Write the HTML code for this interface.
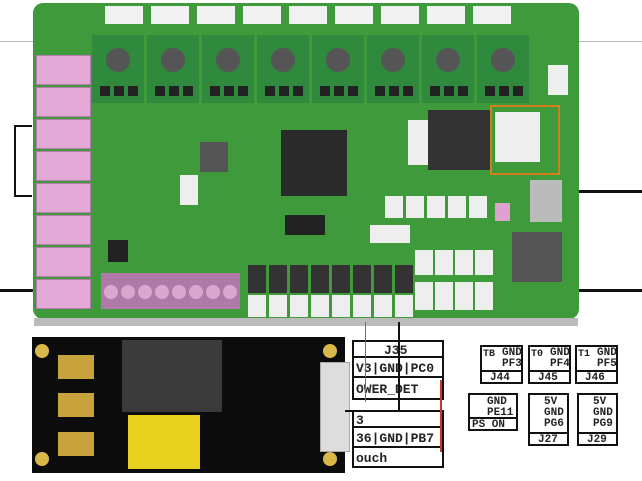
<!DOCTYPE html><html><head><style>
body{margin:0;width:642px;height:481px;background:#fff;position:relative;overflow:hidden;font-family:"Liberation Mono",monospace}
div{position:absolute;box-sizing:border-box}
.b{border:2px solid #111;background:#fff}
.t{font-size:13px;font-weight:bold;color:#222;line-height:1}
</style></head><body>
<div style="left:0;top:41px;width:642px;height:1px;background:#bbb"></div>
<div style="left:0;top:289px;width:642px;height:3px;background:#111"></div>
<div style="left:560px;top:190px;width:82px;height:3px;background:#111"></div>
<div style="left:14px;top:125px;width:18px;height:72px;border:2px solid #111;border-right:none"></div>
<div id="pcb" style="left:33px;top:3px;width:546px;height:316px;background:#3f9a3c;border-radius:10px"></div>
<div style="left:34px;top:318px;width:544px;height:8px;background:#bbb"></div>
<div id="g"></div>
<!-- bottom relay board -->
<div style="left:32px;top:337px;width:313px;height:136px;background:#0c0c0c"></div>
<div style="left:122px;top:340px;width:100px;height:72px;background:#3a3a3a"></div>
<div style="left:128px;top:415px;width:72px;height:54px;background:#e9d21f"></div>
<div style="left:58px;top:355px;width:36px;height:24px;background:#c8a23a"></div>
<div style="left:58px;top:393px;width:36px;height:24px;background:#c8a23a"></div>
<div style="left:58px;top:432px;width:36px;height:24px;background:#c8a23a"></div>
<div style="left:35px;top:344px;width:14px;height:14px;border-radius:50%;background:#d9b84a"></div>
<div style="left:35px;top:452px;width:14px;height:14px;border-radius:50%;background:#d9b84a"></div>
<div style="left:323px;top:344px;width:14px;height:14px;border-radius:50%;background:#d9b84a"></div>
<div style="left:323px;top:452px;width:14px;height:14px;border-radius:50%;background:#d9b84a"></div>
<div style="left:320px;top:362px;width:30px;height:90px;background:#ddd;border:1px solid #aaa"></div>
<!-- J35 table -->
<div class="b t" style="left:352px;top:340px;width:92px;height:18px;padding:2px 30px">J35</div>
<div class="b t" style="left:352px;top:356px;width:92px;height:22px;padding:4px 2px">V3|GND|PC0</div>
<div class="b t" style="left:352px;top:376px;width:92px;height:24px;padding:5px 2px">OWER_DET</div>
<div class="b t" style="left:352px;top:410px;width:92px;height:18px;padding:2px 2px">3</div>
<div class="b t" style="left:352px;top:426px;width:92px;height:22px;padding:4px 2px">36|GND|PB7</div>
<div class="b t" style="left:352px;top:446px;width:92px;height:22px;padding:4px 2px">ouch</div>
<div style="left:440px;top:380px;width:2px;height:72px;background:#c33"></div>
<div style="left:365px;top:322px;width:1px;height:80px;background:#4a6fcf"></div>
<div style="left:398px;top:322px;width:2px;height:90px;background:#111"></div>
<div style="left:345px;top:410px;width:55px;height:2px;background:#111"></div>
<!-- right labels -->
<div class="b t" style="left:480px;top:345px;width:43px;height:38px;font-size:11px;padding:1px 0 0 20px">GND<br>PF3</div>
<div class="b t" style="left:480px;top:370px;width:43px;height:14px;font-size:11px;padding:1px 8px">J44</div>
<div class="b t" style="left:528px;top:345px;width:43px;height:38px;font-size:11px;padding:1px 0 0 20px">GND<br>PF4</div>
<div class="b t" style="left:528px;top:370px;width:43px;height:14px;font-size:11px;padding:1px 8px">J45</div>
<div class="b t" style="left:575px;top:345px;width:43px;height:38px;font-size:11px;padding:1px 0 0 20px">GND<br>PF5</div>
<div class="b t" style="left:575px;top:370px;width:43px;height:14px;font-size:11px;padding:1px 8px">J46</div>
<div class="t" style="left:483px;top:350px;font-size:10px">TB</div>
<div class="t" style="left:531px;top:350px;font-size:10px">T0</div>
<div class="t" style="left:578px;top:350px;font-size:10px">T1</div>
<div class="b t" style="left:468px;top:393px;width:50px;height:38px;font-size:11px;padding:2px 0 0 17px">GND<br>PE11</div>
<div class="b t" style="left:468px;top:417px;width:50px;height:14px;font-size:11px;padding:1px 2px">PS ON</div>
<div class="b t" style="left:528px;top:393px;width:41px;height:53px;font-size:11px;padding:2px 0 0 14px">5V<br>GND<br>PG6</div>
<div class="b t" style="left:528px;top:432px;width:41px;height:14px;font-size:11px;padding:1px 8px">J27</div>
<div class="b t" style="left:577px;top:393px;width:41px;height:53px;font-size:11px;padding:2px 0 0 14px">5V<br>GND<br>PG9</div>
<div class="b t" style="left:577px;top:432px;width:41px;height:14px;font-size:11px;padding:1px 8px">J29</div>
<script>
var g=document.getElementById('g'),h='';
function r(x,y,w,hh,c,e){h+='<div style="left:'+x+'px;top:'+y+'px;width:'+w+'px;height:'+hh+'px;background:'+c+';'+(e||'')+'"></div>';}
for(var i=0;i<8;i++){var x=92+i*55;r(x,35,52,68,'#2f8a3e');r(x+14,48,24,24,'#555','border-radius:50%');r(x+8,86,10,10,'#222');r(x+22,86,10,10,'#222');r(x+36,86,10,10,'#222');}
for(var i=0;i<9;i++)r(105+i*46,6,38,18,'#f2f2f2');
for(var i=0;i<8;i++)r(36,55+i*32,55,30,'#e2a8d6','border:1px solid #b57ab0');
r(281,130,66,66,'#2a2a2a');r(200,142,28,30,'#555');r(108,240,20,22,'#222');
r(101,273,139,36,'#b07aa8');
for(var i=0;i<8;i++)r(104+i*17,285,14,14,'#d9a8d0','border-radius:50%');
for(var i=0;i<5;i++)r(385+i*21,196,18,22,'#eee');
for(var i=0;i<8;i++)r(248+i*21,265,18,28,'#333');
for(var i=0;i<8;i++)r(248+i*21,295,18,22,'#eee');
for(var i=0;i<4;i++){r(415+i*20,250,18,25,'#eee');r(415+i*20,282,18,28,'#eee');}
r(428,110,62,60,'#333');r(495,112,45,50,'#eee');r(490,105,70,70,'rgba(0,0,0,0)','border:2px solid #d08020');
r(530,180,32,42,'#bbb');r(512,232,50,50,'#555');r(408,120,20,45,'#eee');r(180,175,18,30,'#eee');
r(370,225,40,18,'#eee');r(285,215,40,20,'#222');r(495,203,15,18,'#e0a0d0');r(548,65,20,30,'#eee');
g.innerHTML=h;
</script>
</body></html>
